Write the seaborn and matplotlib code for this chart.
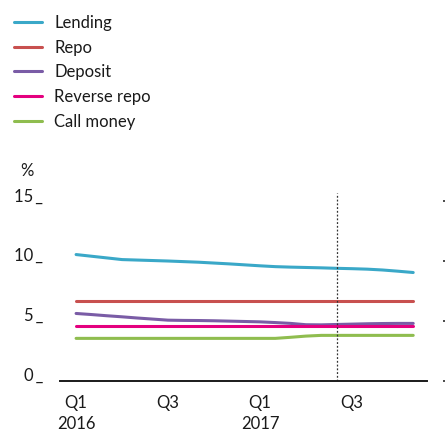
"""Policy and market interest rates, monthly, Jan 2016 - Nov 2017."""

import matplotlib
matplotlib.use("Agg")
import matplotlib.pyplot as plt
import pandas as pd
import seaborn as sns

# month index 0 = Jan 2016
months = list(range(23))

lending = [10.56, 10.42, 10.28, 10.14, 10.10, 10.06, 10.02, 9.97, 9.92, 9.85, 9.78, 9.70,
           9.62, 9.55, 9.51, 9.48, 9.45, 9.41, 9.38, 9.34, 9.27, 9.17, 9.06]
repo = [6.67, 6.67, 6.67, 6.67, 6.67, 6.67, 6.67, 6.67, 6.67, 6.67, 6.67, 6.67,
        6.67, 6.67, 6.67, 6.67, 6.67, 6.67, 6.67, 6.67, 6.67, 6.67, 6.67]
deposit = [5.64, 5.55, 5.45, 5.36, 5.26, 5.17, 5.08, 5.06, 5.05, 5.03, 5.00, 4.97,
           4.94, 4.88, 4.81, 4.70, 4.69, 4.72, 4.75, 4.78, 4.80, 4.81, 4.81]
reverse_repo = [4.58, 4.58, 4.58, 4.58, 4.58, 4.58, 4.58, 4.58, 4.58, 4.58, 4.58, 4.58,
                4.58, 4.58, 4.58, 4.58, 4.58, 4.58, 4.58, 4.58, 4.58, 4.58, 4.58]
call_money = [3.56, 3.56, 3.56, 3.56, 3.56, 3.56, 3.56, 3.56, 3.56, 3.56, 3.56, 3.56,
              3.56, 3.56, 3.65, 3.75, 3.81, 3.81, 3.81, 3.81, 3.81, 3.81, 3.81]

series_names = ["Lending", "Repo", "Deposit", "Reverse repo", "Call money"]
series_colors = ["#3aa8c8", "#c8504f", "#7a5ca6", "#e4007f", "#8fbd4f"]

tick_months = [0, 6, 12, 18]
tick_labels = ["Q1\n2016", "Q3", "Q1\n2017", "Q3"]
y_ticks = [0, 5, 10, 15]
marker_month = 17

sns.set_style("white")
plt.rcParams["font.family"] = ["Lato", "DejaVu Sans"]

df = pd.DataFrame({
    "month": months * 5,
    "rate": lending + repo + deposit + reverse_repo + call_money,
    "series": [name for name in series_names for _ in months],
})

fig = plt.figure(figsize=(4.45, 4.32), dpi=100)
ax_rect = [60 / 445, 1 - 381 / 432, 367 / 445, 188 / 432]
ax = fig.add_axes(ax_rect)

sns.lineplot(
    data=df,
    x="month",
    y="rate",
    hue="series",
    hue_order=series_names,
    palette=series_colors,
    linewidth=2.2,
    ax=ax,
    legend=False,
)

ax.axvline(marker_month, color="#333333", linestyle=(0, (1.5, 1.5)), linewidth=0.9)

ax.set_xlim(-1.05, 22.9)
ax.set_ylim(0, 15.7)
for side in ["top", "right", "left"]:
    ax.spines[side].set_visible(False)
ax.spines["bottom"].set_color("#1a1a1a")
ax.spines["bottom"].set_linewidth(1.4)

ax.set_xticks(tick_months)
ax.set_xticklabels(tick_labels, fontsize=12, color="#1a1a1a", linespacing=1.4)
ax.tick_params(axis="x", length=0, pad=10)

ax.set_yticks(y_ticks)
ax.set_yticklabels([f"{v}\u2009_" for v in y_ticks], fontsize=12, color="#1a1a1a")
ax.tick_params(axis="y", length=0, pad=12)
for label in ax.get_yticklabels():
    label.set_verticalalignment("baseline")

ax.set_xlabel("")
ax.set_ylabel("")

# detached tick marks on the right, cut by the figure edge
ax_right = fig.add_axes([ax_rect[0], ax_rect[1], 383 / 445, ax_rect[3]], sharey=ax)
ax_right.patch.set_visible(False)
for spine in ax_right.spines.values():
    spine.set_visible(False)
ax_right.set_xticks([])
ax_right.tick_params(axis="y", left=False, right=True, labelleft=False, labelright=False,
                     direction="out", length=5, width=1.1, color="#1a1a1a")

fig.text(20 / 445, 1 - 171 / 432, "%", fontsize=12, color="#1a1a1a", va="center", ha="left")

handles = [plt.Line2D([], [], color=c, linewidth=2.2) for c in series_colors]
fig.legend(
    handles,
    series_names,
    loc="upper left",
    bbox_to_anchor=(14 / 445, 1 - 15 / 432),
    frameon=False,
    fontsize=12,
    handlelength=1.65,
    handletextpad=0.75,
    labelspacing=0.52,
    borderpad=0,
    borderaxespad=0,
    labelcolor="#1a1a1a",
)

fig.savefig("out.png", dpi=100)
